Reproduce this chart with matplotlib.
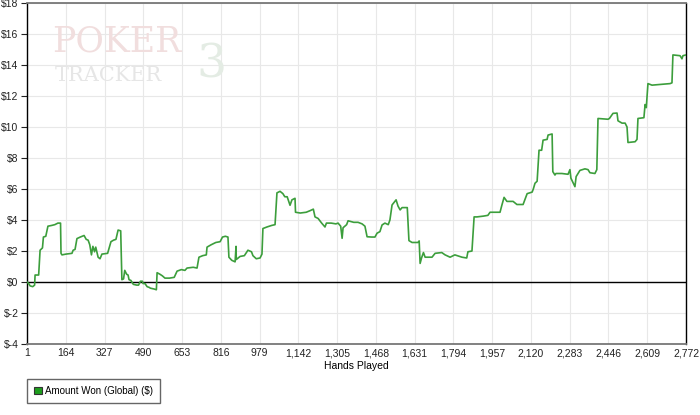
import matplotlib
matplotlib.use("Agg")
import matplotlib.pyplot as plt
from matplotlib.patches import Patch

plt.rcParams['font.family'] = ['Liberation Sans', 'DejaVu Sans']

# cumulative winnings (hand number, dollars)
hands = [1, 8, 14, 25, 33, 35, 50, 56, 66, 70, 80, 89, 105, 118, 131, 142, 144, 148, 165, 190,
         195, 203, 211, 225, 241, 250, 258, 265, 272, 278, 285, 290, 300, 308, 316, 340, 354, 365,
         375, 384, 395, 400, 407, 412, 420, 426, 430, 438, 448, 462, 470, 478, 486, 489, 497, 506,
         515, 520, 535, 545, 548, 560, 570, 581, 600, 620, 632, 650, 665, 674, 700, 716, 724, 740,
         755, 758, 775, 795, 813, 823, 835, 846, 850, 862, 876, 880, 881, 897, 915, 930, 945, 951,
         965, 981, 989, 993, 1010, 1030, 1044, 1052, 1065, 1077, 1085, 1095, 1107, 1115, 1128,
         1130, 1150, 1175, 1191, 1205, 1212, 1225, 1240, 1254, 1260, 1280, 1300, 1309, 1320, 1326,
         1330, 1345, 1351, 1375, 1393, 1410, 1422, 1431, 1450, 1464, 1473, 1485, 1494, 1506, 1520,
         1527, 1536, 1548, 1553, 1561, 1570, 1578, 1600, 1607, 1620, 1645, 1650, 1654, 1660, 1668,
         1675, 1704, 1717, 1745, 1759, 1780, 1800, 1830, 1850, 1855, 1872, 1881, 1893, 1920, 1939,
         1948, 1990, 1998, 2007, 2019, 2045, 2061, 2087, 2104, 2125, 2130, 2137, 2146, 2154, 2165,
         2171, 2188, 2192, 2209, 2212, 2221, 2225, 2250, 2276, 2284, 2288, 2305, 2310, 2326, 2347,
         2360, 2368, 2389, 2397, 2402, 2444, 2450, 2465, 2482, 2486, 2503, 2516, 2524, 2528, 2558,
         2566, 2570, 2595, 2600, 2605, 2612, 2629, 2705, 2713, 2717, 2747, 2755, 2759, 2772]
won = [0.0, -0.1, -0.25, -0.3, -0.2, 0.45, 0.45, 2.05, 2.2, 2.9, 2.95, 3.6, 3.65, 3.7, 3.8, 3.8,
       1.85, 1.75, 1.8, 1.85, 2.05, 2.1, 2.8, 2.9, 3.0, 2.75, 2.7, 2.4, 1.75, 2.3, 1.95, 2.25, 1.6,
       1.5, 1.8, 1.85, 2.6, 2.7, 2.75, 3.35, 3.3, 0.15, 0.2, 0.75, 0.5, 0.45, 0.15, 0.1, -0.15,
       -0.2, -0.2, 0.05, 0.05, -0.1, -0.1, -0.3, -0.35, -0.4, -0.45, -0.5, 0.6, 0.5, 0.4, 0.25,
       0.25, 0.3, 0.7, 0.8, 0.75, 0.9, 0.95, 0.9, 1.6, 1.7, 1.75, 2.25, 2.4, 2.55, 2.6, 2.9, 2.95,
       2.9, 1.6, 1.4, 1.3, 2.3, 1.45, 1.65, 1.7, 2.05, 1.95, 1.7, 1.5, 1.55, 1.8, 3.45, 3.55, 3.65,
       3.7, 5.75, 5.85, 5.7, 5.5, 5.5, 4.95, 5.3, 5.4, 4.5, 4.45, 4.5, 4.6, 4.7, 4.2, 4.1, 3.8,
       3.55, 3.8, 3.8, 3.75, 3.8, 3.6, 2.82, 3.5, 3.7, 3.95, 3.85, 3.85, 3.75, 3.6, 2.92, 2.9, 2.9,
       3.15, 3.25, 3.68, 3.8, 3.7, 4.0, 4.97, 5.2, 5.3, 4.9, 4.65, 4.8, 4.8, 2.67, 2.55, 2.55,
       2.65, 1.2, 1.55, 1.9, 1.6, 1.6, 1.85, 1.9, 1.75, 1.6, 1.75, 1.6, 1.55, 1.95, 2.0, 4.2, 4.2,
       4.25, 4.3, 4.5, 4.5, 4.97, 5.46, 5.2, 5.2, 5.0, 5.0, 5.7, 5.8, 6.0, 6.37, 6.5, 8.5, 8.5,
       9.15, 9.2, 9.48, 9.55, 7.12, 6.9, 7.0, 7.0, 6.95, 7.25, 6.7, 6.15, 6.8, 7.2, 7.3, 7.25,
       7.05, 7.0, 7.25, 10.55, 10.5, 10.55, 10.88, 10.9, 10.4, 10.25, 10.25, 10.0, 9.0, 9.05, 9.2,
       10.55, 10.6, 11.45, 11.25, 12.8, 12.7, 12.8, 12.85, 14.65, 14.6, 14.4, 14.6, 14.65]

x_ticks = [1, 164, 327, 490, 653, 816, 979, 1142, 1305, 1468, 1631, 1794, 1957, 2120, 2283,
           2446, 2609, 2772]
y_ticks = [-4, -2, 0, 2, 4, 6, 8, 10, 12, 14, 16, 18]

fig = plt.figure(figsize=(7, 4.15), dpi=100)
ax = fig.add_axes([27 / 700, 1 - 344 / 415, (686 - 27) / 700, (344 - 3) / 415])

# faint watermark
fig.text(52 / 700, 1 - 52 / 415, "POKER", family="DejaVu Serif", fontsize=25,
         color="#f1dede", zorder=0)
fig.text(55 / 700, 1 - 81 / 415, "TRACKER", family="DejaVu Serif", fontsize=15,
         color="#e6e6e6", zorder=0)
fig.text(196 / 700, 1 - 78 / 415, "3", family="DejaVu Serif", fontsize=34,
         color="#e4ece4", zorder=0)

ax.plot(hands, won, color="#3c9e3c", lw=1.2, zorder=3)
ax.axhline(0, color="black", lw=1.0, zorder=2)

ax.set_xlim(1, 2772)
ax.set_ylim(-4, 18)
ax.set_xticks(x_ticks)
ax.set_xticklabels([f"{t:,}" for t in x_ticks])
ax.set_yticks(y_ticks)
ax.set_yticklabels([f"${t}" for t in y_ticks])
ax.grid(True, color="#e8e8e8", lw=0.8)
ax.set_axisbelow(True)
ax.patch.set_alpha(0)

ax.tick_params(axis="both", labelsize=7.5, colors="#222222", length=4, width=0.8)
ax.tick_params(axis="x", length=0, pad=3)
ax.tick_params(axis="y", pad=2)
for side in ["left", "right"]:
    ax.spines[side].set_color("black")
    ax.spines[side].set_linewidth(1.0)
for side in ["top", "bottom"]:
    ax.spines[side].set_color("#777777")
    ax.spines[side].set_linewidth(1.3)

ax.set_xlabel("Hands Played", fontsize=7.5, labelpad=2)

handle = Patch(facecolor="#1e9e1e", edgecolor="#333333", linewidth=0.8)
leg = fig.legend([handle], ["Amount Won (Global) ($)"], loc="upper left",
                 bbox_to_anchor=(27 / 700, 1 - 379 / 415), borderaxespad=0, fontsize=7,
                 fancybox=False, handlelength=0.8, handleheight=0.8, handletextpad=0.4,
                 borderpad=0.7, framealpha=1)
leg.get_frame().set_edgecolor("#666666")
leg.get_frame().set_linewidth(1.0)

fig.savefig("out.png", dpi=100)
